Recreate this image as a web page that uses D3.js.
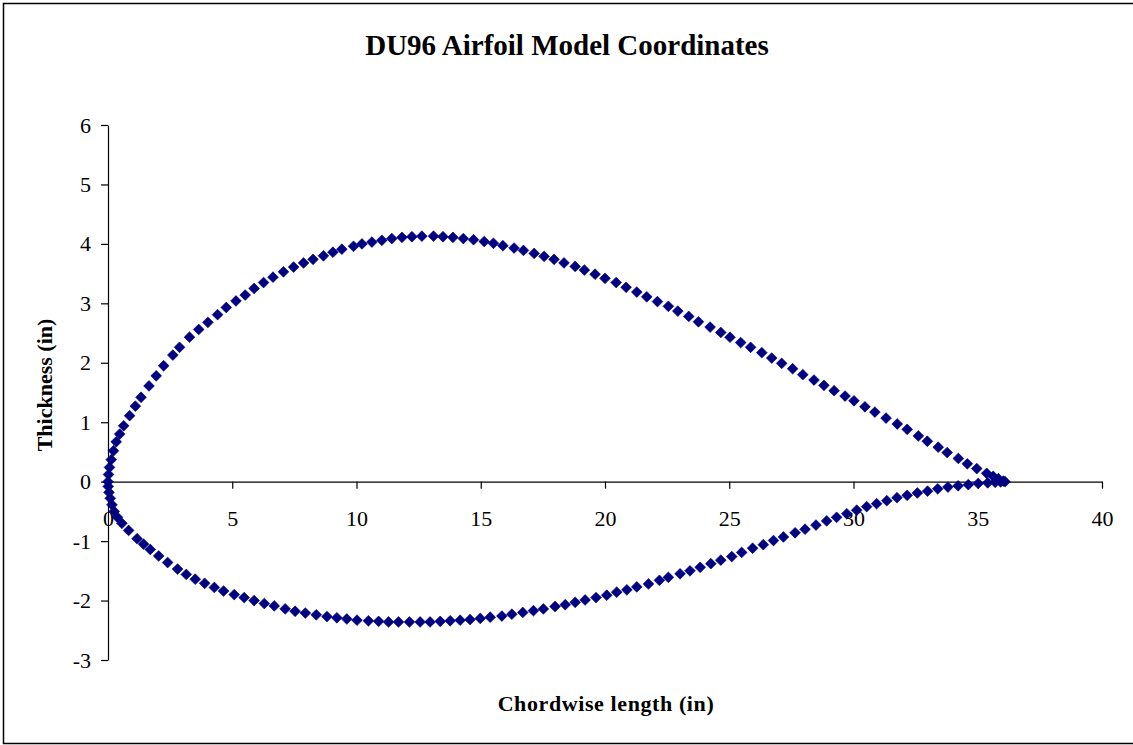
<!DOCTYPE html>
<html>
<head>
<meta charset="utf-8">
<script src="https://cdn.jsdelivr.net/npm/d3@7"></script>
<style>
  body { margin: 0; background: #fff; }
  svg { display: block; font-family: "Liberation Serif", "Times New Roman", serif; }
</style>
</head>
<body>
<div id="chart"></div>
<script>
// upper surface, leading edge -> trailing edge
const upperX = [0.00, 0.02, 0.06, 0.13, 0.22, 0.33, 0.47, 0.63, 0.87, 1.10, 1.33, 1.65, 1.94, 2.24, 2.61, 2.88,
  3.28, 3.65, 4.02, 4.41, 4.76, 5.15, 5.52, 5.88, 6.26, 6.64, 7.06, 7.47, 7.87, 8.25, 8.67, 9.05, 9.41, 9.88,
  10.22, 10.62, 11.02, 11.42, 11.83, 12.23, 12.63, 13.10, 13.48, 13.88, 14.30, 14.71, 15.14, 15.51, 15.89,
  16.34, 16.72, 17.15, 17.55, 17.95, 18.35, 18.80, 19.17, 19.60, 20.00, 20.45, 20.85, 21.28, 21.68, 22.11,
  22.55, 22.93, 23.37, 23.76, 24.23, 24.66, 25.03, 25.46, 25.86, 26.31, 26.71, 27.11, 27.55, 27.96, 28.41,
  28.81, 29.22, 29.66, 30.02, 30.46, 30.86, 31.31, 31.76, 32.16, 32.61, 32.97, 33.41, 33.77, 34.22, 34.58,
  34.96, 35.36, 35.62, 35.83, 36.03];
const upperY = [0.00, 0.12, 0.24, 0.37, 0.52, 0.67, 0.80, 0.94, 1.11, 1.27, 1.42, 1.61, 1.78, 1.95, 2.13, 2.26,
  2.43, 2.56, 2.68, 2.81, 2.93, 3.04, 3.14, 3.25, 3.35, 3.44, 3.53, 3.61, 3.68, 3.74, 3.80, 3.86, 3.91, 3.96,
  4.00, 4.03, 4.06, 4.09, 4.11, 4.12, 4.13, 4.13, 4.12, 4.11, 4.09, 4.07, 4.04, 4.01, 3.97,
  3.93, 3.89, 3.84, 3.79, 3.74, 3.68, 3.62, 3.56, 3.49, 3.42, 3.35, 3.27, 3.19, 3.11, 3.03,
  2.95, 2.87, 2.78, 2.69, 2.60, 2.51, 2.43, 2.34, 2.26, 2.17, 2.08, 1.99, 1.90, 1.80, 1.71,
  1.62, 1.53, 1.44, 1.36, 1.26, 1.17, 1.07, 0.97, 0.88, 0.77, 0.68, 0.58, 0.49, 0.39, 0.30,
  0.22, 0.14, 0.09, 0.05, 0.01];

// lower surface, leading edge -> trailing edge
const lowerX = [0.01, 0.04, 0.09, 0.16, 0.25, 0.38, 0.56, 0.83, 1.17, 1.43, 1.70, 2.04, 2.40, 2.80, 3.15, 3.51,
  3.89, 4.28, 4.65, 5.08, 5.48, 5.88, 6.29, 6.69, 7.13, 7.53, 7.94, 8.38, 8.81, 9.21, 9.61, 10.02, 10.48,
  10.89, 11.29, 11.69, 12.13, 12.56, 12.96, 13.37, 13.77, 14.17, 14.57, 14.98, 15.38, 15.85, 16.25, 16.69,
  17.12, 17.52, 17.99, 18.40, 18.80, 19.20, 19.64, 20.07, 20.47, 20.88, 21.28, 21.75, 22.19, 22.55, 23.02,
  23.42, 23.83, 24.26, 24.66, 25.10, 25.50, 25.94, 26.37, 26.78, 27.18, 27.65, 28.05, 28.49, 28.92, 29.32,
  29.73, 30.13, 30.53, 30.93, 31.34, 31.75, 32.16, 32.57, 32.98, 33.39, 33.80, 34.21, 34.62, 35.02, 35.40,
  35.70, 35.92, 36.10];
const lowerY = [-0.08, -0.18, -0.28, -0.39, -0.50, -0.60, -0.70, -0.82, -0.96, -1.05, -1.14, -1.25, -1.36, -1.47, -1.56, -1.64,
  -1.71, -1.78, -1.84, -1.90, -1.95, -2.00, -2.05, -2.09, -2.14, -2.18, -2.21, -2.24, -2.27, -2.29, -2.31, -2.33, -2.34,
  -2.35, -2.36, -2.36, -2.36, -2.36, -2.36, -2.35, -2.34, -2.33, -2.32, -2.30, -2.28, -2.26, -2.23, -2.20,
  -2.17, -2.14, -2.10, -2.07, -2.03, -1.99, -1.95, -1.91, -1.86, -1.82, -1.77, -1.72, -1.66, -1.61, -1.55,
  -1.50, -1.44, -1.38, -1.32, -1.26, -1.19, -1.12, -1.06, -0.99, -0.93, -0.86, -0.80, -0.73, -0.66, -0.60,
  -0.54, -0.48, -0.42, -0.37, -0.32, -0.27, -0.23, -0.19, -0.16, -0.12, -0.09, -0.07, -0.05, -0.03, -0.02,
  -0.01, -0.005, 0.00];

const xTicks = [0, 5, 10, 15, 20, 25, 30, 35, 40];
const yTicks = [-3, -2, -1, 0, 1, 2, 3, 4, 5, 6];

const title = 'DU96 Airfoil Model Coordinates';
const xTitle = 'Chordwise length (in)';
const yTitle = 'Thickness (in)';

const width = 1133, height = 745;
const navy = '#000080';

const svg = d3.select('#chart').append('svg')
  .attr('width', width)
  .attr('height', height);

// outer chart border
svg.append('rect')
  .attr('x', 3.5).attr('y', 3.5)
  .attr('width', 1140).attr('height', 740)
  .attr('fill', '#fff')
  .attr('stroke', '#000')
  .attr('stroke-width', 1.5);

const x = d3.scaleLinear().domain([0, 40]).range([108, 1102]);
const y = d3.scaleLinear().domain([-3, 6]).range([660, 125]);

// title
svg.append('text')
  .attr('x', 567).attr('y', 55)
  .attr('text-anchor', 'middle')
  .attr('font-size', 29)
  .attr('font-weight', 'bold')
  .text(title);

// plain hyphen minus, like the original
const fmt = d => String(d);

// y axis (at x = 0)
const yAxis = svg.append('g')
  .attr('transform', `translate(${x(0)},0)`)
  .call(d3.axisLeft(y).tickValues(yTicks).tickFormat(fmt).tickSize(7).tickPadding(10).tickSizeOuter(0));

// x axis (at y = 0)
const xAxis = svg.append('g')
  .attr('transform', `translate(0,${y(0)})`)
  .call(d3.axisBottom(x).tickValues(xTicks).tickFormat(fmt).tickSize(7).tickPadding(22).tickSizeOuter(0));

[yAxis, xAxis].forEach(g => {
  g.selectAll('.domain').attr('stroke', '#000').attr('stroke-width', 1.2);
  g.selectAll('.tick line').attr('stroke', '#000').attr('stroke-width', 1.2);
  g.selectAll('.tick text')
    .attr('font-family', '"Liberation Serif", "Times New Roman", serif')
    .attr('font-size', 22)
    .attr('fill', '#000');
});

// axis titles
svg.append('text')
  .attr('x', 606).attr('y', 711)
  .attr('text-anchor', 'middle')
  .attr('font-size', 22)
  .attr('font-weight', 'bold')
  .attr('letter-spacing', 0.6)
  .text(xTitle);

svg.append('text')
  .attr('transform', 'translate(52,385) rotate(-90)')
  .attr('text-anchor', 'middle')
  .attr('font-size', 22)
  .attr('font-weight', 'bold')
  .text(yTitle);

// points: upper surface then lower surface
const points = upperX.map((v, i) => ({ x: v, y: upperY[i] }))
  .concat(lowerX.map((v, i) => ({ x: v, y: lowerY[i] })));

const diamond = d3.symbol().type(d3.symbolSquare).size(58);

svg.append('g')
  .selectAll('path')
  .data(points)
  .join('path')
  .attr('d', diamond)
  .attr('transform', d => `translate(${x(d.x)},${y(d.y)}) rotate(45)`)
  .attr('fill', navy)
  .attr('stroke', navy)
  .attr('stroke-width', 0.6);
</script>
</body>
</html>
